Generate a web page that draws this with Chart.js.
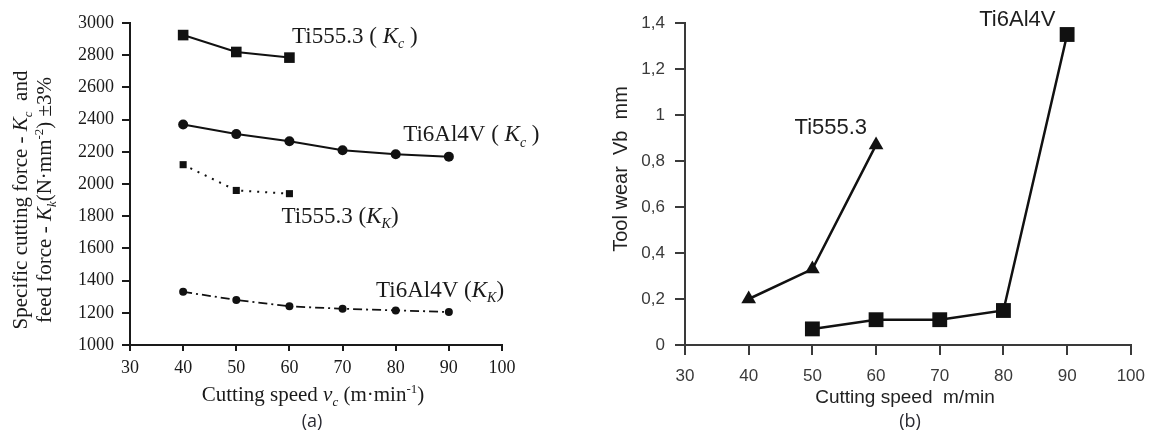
<!DOCTYPE html>
<html>
<head>
<meta charset="utf-8">
<script src="https://cdn.jsdelivr.net/npm/chart.js@4.4.1/dist/chart.umd.min.js"></script>
<style>
  body { margin: 0; background: #fff; width: 1156px; height: 439px; overflow: hidden; position: relative; }
  .panel { position: absolute; top: 0; width: 578px; height: 439px; }
  #forcePanel { left: 0; }
  #wearPanel { left: 578px; }
</style>
</head>
<body>
<div class="panel" id="forcePanel"><canvas id="forceChart" width="578" height="439"></canvas></div>
<div class="panel" id="wearPanel"><canvas id="wearChart" width="578" height="439"></canvas></div>
<script>
// (a) specific cutting force / feed force vs cutting speed
const speedsTi555 = [40, 50, 60];
const speedsTi64 = [40, 50, 60, 70, 80, 90];
const kcTi555 = [2925, 2820, 2785];
const kcTi64 = [2370, 2310, 2265, 2210, 2185, 2170];
const kkTi555 = [2120, 1960, 1940];
const kkTi64 = [1330, 1280, 1240, 1225, 1215, 1205];

// (b) tool wear vs cutting speed
const wearSpeedsTi555 = [40, 50, 60];
const wearSpeedsTi64 = [50, 60, 70, 80, 90];
const wearTi555 = [0.2, 0.33, 0.87];
const wearTi64 = [0.07, 0.11, 0.11, 0.15, 1.35];

const forceTicks = { min: 1000, max: 3000, step: 200 };
const wearTicks = { min: 0, max: 1.4, step: 0.2 };
const speedTicks = { min: 30, max: 100, step: 10 };

const SERIF = '"Liberation Serif", "Times New Roman", serif';
const SANS = '"Liberation Sans", Arial, sans-serif';

function toPoints(xs, ys) {
  return xs.map((x, i) => ({ x: x, y: ys[i] }));
}

// draws a run of text pieces; pieces may be italic, subscript or superscript
function drawRich(ctx, parts, x, y, o) {
  ctx.save();
  ctx.translate(x, y);
  if (o.rotate) ctx.rotate(o.rotate);
  const fontFor = p => {
    const s = (p.sub || p.sup) ? Math.round(o.size * 0.62) : o.size;
    return (p.it ? 'italic ' : '') + s + 'px ' + o.family;
  };
  let total = 0;
  parts.forEach(p => { ctx.font = fontFor(p); total += ctx.measureText(p.t).width; });
  let cx = o.align === 'center' ? -total / 2 : 0;
  ctx.fillStyle = o.color;
  ctx.textBaseline = 'alphabetic';
  ctx.textAlign = 'left';
  parts.forEach(p => {
    ctx.font = fontFor(p);
    const dy = p.sub ? o.size * 0.22 : (p.sup ? -o.size * 0.38 : 0);
    ctx.fillText(p.t, cx, dy);
    cx += ctx.measureText(p.t).width;
  });
  ctx.restore();
}

function axisOpts(ticks, color, family, size, tickLen, pad, fmt) {
  return {
    type: 'linear',
    min: ticks.min,
    max: ticks.max,
    border: { display: true, color: color, width: 2 },
    grid: { drawOnChartArea: false, drawTicks: true, tickLength: tickLen, color: color, lineWidth: 2 },
    ticks: {
      stepSize: ticks.step,
      padding: pad,
      color: color,
      font: { family: family, size: size },
      callback: fmt || (v => v)
    }
  };
}

// ---------- (a) ----------
const forceLabels = {
  id: 'forceLabels',
  afterDraw(chart) {
    const ctx = chart.ctx;
    const xs = chart.scales.x, ys = chart.scales.y;
    const at = (x, y) => [xs.getPixelForValue(x), ys.getPixelForValue(y)];
    const base = { family: SERIF, size: 23, color: '#1a1a1a' };

    let p = at(60.5, 2878);
    drawRich(ctx, [{ t: 'Ti555.3 ( ' }, { t: 'K', it: true }, { t: 'c', it: true, sub: true }, { t: ' )' }], p[0], p[1], base);
    p = at(81.4, 2264);
    drawRich(ctx, [{ t: 'Ti6Al4V ( ' }, { t: 'K', it: true }, { t: 'c', it: true, sub: true }, { t: ' )' }], p[0], p[1], base);
    p = at(58.5, 1760);
    drawRich(ctx, [{ t: 'Ti555.3 (' }, { t: 'K', it: true }, { t: 'K', it: true, sub: true }, { t: ')' }], p[0], p[1], base);
    p = at(76.3, 1300);
    drawRich(ctx, [{ t: 'Ti6Al4V (' }, { t: 'K', it: true }, { t: 'K', it: true, sub: true }, { t: ')' }], p[0], p[1], base);

    const title = { family: SERIF, size: 21, color: '#1a1a1a', align: 'center', rotate: -Math.PI / 2 };
    drawRich(ctx, [{ t: 'Specific cutting force - ' }, { t: 'K', it: true }, { t: 'c', it: true, sub: true }, { t: '  and' }], 27, 200, title);
    drawRich(ctx, [{ t: 'feed force - ' }, { t: 'K', it: true }, { t: 'k', it: true, sub: true }, { t: '(N·mm' }, { t: '-2', sup: true }, { t: ') ±3%' }], 51, 200, title);

    drawRich(ctx, [{ t: 'Cutting speed ' }, { t: 'v', it: true }, { t: 'c', it: true, sub: true }, { t: ' (m·min' }, { t: '-1', sup: true }, { t: ')' }], 313, 401,
      { family: SERIF, size: 21, color: '#1a1a1a', align: 'center' });
    drawRich(ctx, [{ t: '(a)' }], 312, 427, { family: '"Open Sans", sans-serif', size: 18, color: '#2b2b33', align: 'center' });
  }
};

new Chart(document.getElementById('forceChart'), {
  type: 'line',
  data: {
    datasets: [
      { data: toPoints(speedsTi555, kcTi555), borderColor: '#111', borderWidth: 2, pointStyle: 'rect', pointRadius: 7.5, pointBackgroundColor: '#111', pointBorderWidth: 0 },
      { data: toPoints(speedsTi64, kcTi64), borderColor: '#111', borderWidth: 2, pointStyle: 'circle', pointRadius: 5, pointBackgroundColor: '#111', pointBorderWidth: 0 },
      { data: toPoints(speedsTi555, kkTi555), borderColor: '#111', borderWidth: 2, borderDash: [2, 6], pointStyle: 'rect', pointRadius: 5, pointBackgroundColor: '#111', pointBorderWidth: 0 },
      { data: toPoints(speedsTi64, kkTi64), borderColor: '#111', borderWidth: 1.8, borderDash: [9, 4, 2, 4], pointStyle: 'circle', pointRadius: 4, pointBackgroundColor: '#111', pointBorderWidth: 0 }
    ]
  },
  options: {
    responsive: false,
    animation: false,
    devicePixelRatio: 1,
    clip: false,
    layout: { padding: { left: 0, top: 23, right: 76, bottom: 0 } },
    plugins: { legend: { display: false }, tooltip: { enabled: false } },
    scales: {
      x: Object.assign(axisOpts(speedTicks, '#1a1a1a', SERIF, 18, 6, 6), { afterFit: s => { s.height = 94; } }),
      y: Object.assign(axisOpts(forceTicks, '#1a1a1a', SERIF, 18, 8, 8), { afterFit: s => { s.width = 130; } })
    }
  },
  plugins: [forceLabels]
});

// ---------- (b) ----------
const wearLabels = {
  id: 'wearLabels',
  afterDraw(chart) {
    const ctx = chart.ctx;
    const xs = chart.scales.x, ys = chart.scales.y;
    const at = (x, y) => [xs.getPixelForValue(x), ys.getPixelForValue(y)];
    const base = { family: SANS, size: 22, color: '#1e1e1e' };

    let p = at(47.2, 0.917);
    drawRich(ctx, [{ t: 'Ti555.3' }], p[0], p[1], base);
    p = at(76.2, 1.387);
    drawRich(ctx, [{ t: 'Ti6Al4V' }], p[0], p[1], base);

    drawRich(ctx, [{ t: 'Tool wear  Vb  mm' }], 49, 169,
      { family: SANS, size: 20, color: '#222', align: 'center', rotate: -Math.PI / 2 });
    drawRich(ctx, [{ t: 'Cutting speed  m/min' }], 327, 403, { family: SANS, size: 19, color: '#222', align: 'center' });
    drawRich(ctx, [{ t: '(b)' }], 332, 427, { family: '"Open Sans", sans-serif', size: 18, color: '#2b2b33', align: 'center' });
  }
};

new Chart(document.getElementById('wearChart'), {
  type: 'line',
  data: {
    datasets: [
      { data: toPoints(wearSpeedsTi555, wearTi555), borderColor: '#111', borderWidth: 2.5, pointStyle: 'triangle', pointRadius: 8.5, pointBackgroundColor: '#111', pointBorderWidth: 0 },
      { data: toPoints(wearSpeedsTi64, wearTi64), borderColor: '#111', borderWidth: 2.5, pointStyle: 'rect', pointRadius: 10.5, pointBackgroundColor: '#111', pointBorderWidth: 0 }
    ]
  },
  options: {
    responsive: false,
    animation: false,
    devicePixelRatio: 1,
    clip: false,
    layout: { padding: { left: 0, top: 23, right: 24, bottom: 0 } },
    plugins: { legend: { display: false }, tooltip: { enabled: false } },
    scales: {
      x: Object.assign(axisOpts(speedTicks, '#3a3a3a', SANS, 17, 10, 11), { afterFit: s => { s.height = 94; } }),
      y: Object.assign(axisOpts(wearTicks, '#3a3a3a', SANS, 17, 10, 10,
        v => String(Math.round(v * 10) / 10).replace('.', ',')), { afterFit: s => { s.width = 107; } })
    }
  },
  plugins: [wearLabels]
});
</script>
</body>
</html>
